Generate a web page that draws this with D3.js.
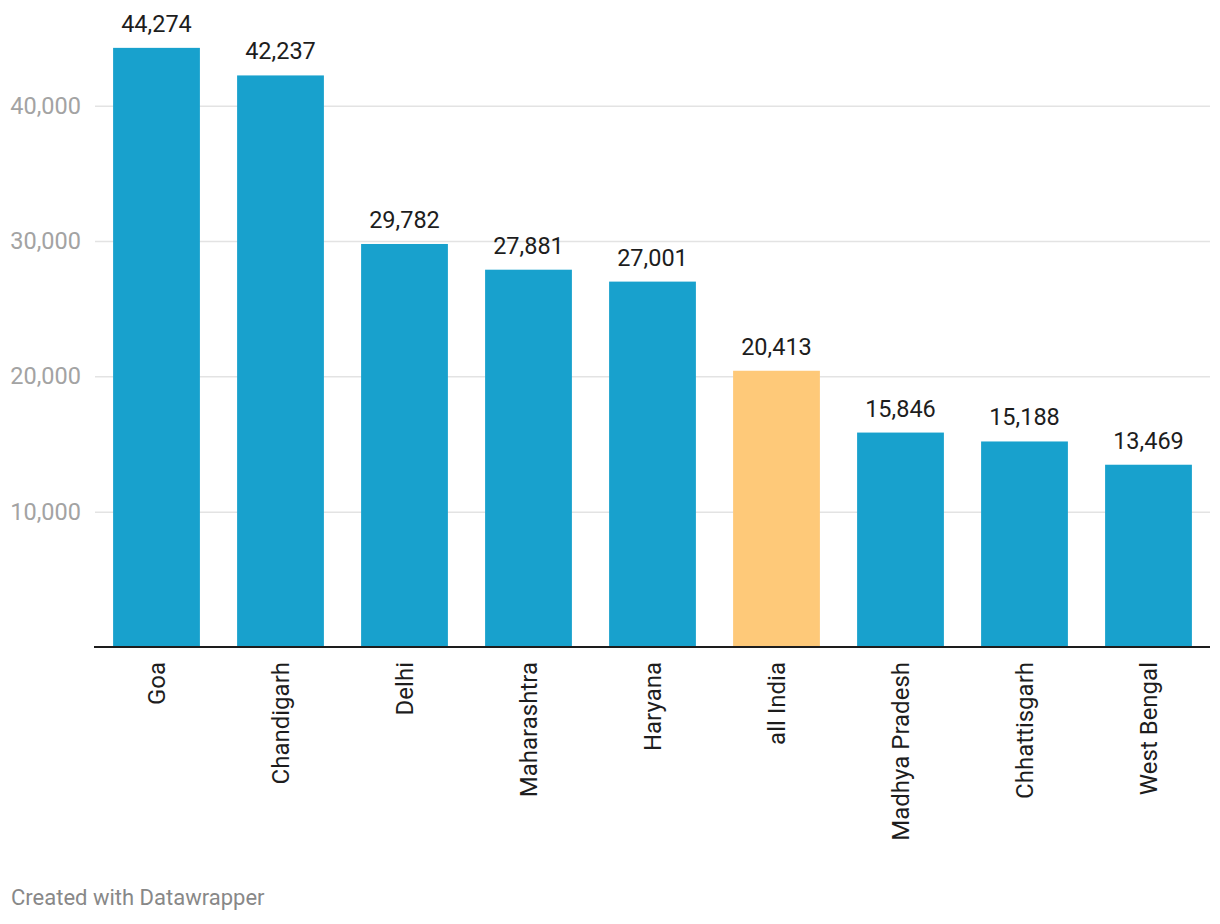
<!DOCTYPE html>
<html lang="en">
<head>
    <meta charset="UTF-8"/>
    <title>Bar chart</title>
    <script src="https://d3js.org/d3.v7.min.js"></script>
    <style>
        body { margin: 0; background: #fff; }
        text { font-family: Roboto, "Noto Sans", sans-serif; }
    </style>
</head>
<body>
<div id="chart"></div>
<script>
    // data
    const states = ["Goa", "Chandigarh", "Delhi", "Maharashtra", "Haryana", "all India",
        "Madhya Pradesh", "Chhattisgarh", "West Bengal"];
    const values = [44274, 42237, 29782, 27881, 27001, 20413, 15846, 15188, 13469];
    const yTicks = [10000, 20000, 30000, 40000];
    const highlight = "all India";

    const W = 1220, H = 924;

    const svg = d3.select("#chart")
        .append("svg")
        .attr("width", W)
        .attr("height", H);

    const x = d3.scaleBand()
        .domain(states)
        .range([94.5, 1210.5])
        .paddingInner(0.3)
        .paddingOuter(0.15);

    const y = d3.scaleLinear()
        .domain([0, 40000])
        .range([647, 105.7]);

    const fmt = d3.format(",");

    // gridlines + y labels
    const yAxis = svg.append("g")
        .attr("transform", "translate(95,0)")
        .call(d3.axisLeft(y).tickValues(yTicks).tickSize(-1115).tickFormat(fmt).tickPadding(14));
    yAxis.select(".domain").remove();
    yAxis.selectAll(".tick line").attr("stroke", "#e3e3e3").attr("stroke-width", 1.5);
    yAxis.selectAll(".tick text")
        .attr("fill", "#a3a3a3")
        .style("font-size", "23.5px")
        .style("font-family", "Roboto, sans-serif");

    // bars
    const data = states.map(function(s, i) { return {name: s, value: values[i]}; });
    svg.selectAll("rect.bar")
        .data(data)
        .enter().append("rect")
        .attr("class", "bar")
        .attr("x", function(d) { return x(d.name); })
        .attr("width", x.bandwidth())
        .attr("y", function(d) { return y(d.value); })
        .attr("height", function(d) { return y(0) - y(d.value); })
        .attr("fill", function(d) { return d.name === highlight ? "#fec979" : "#18a1cd"; });

    // value labels
    svg.selectAll("text.val")
        .data(data)
        .enter().append("text")
        .attr("class", "val")
        .attr("x", function(d) { return x(d.name) + x.bandwidth() / 2; })
        .attr("y", function(d) { return y(d.value) - 16; })
        .attr("text-anchor", "middle")
        .attr("fill", "#1d1d1d")
        .style("font-size", "23.5px")
        .text(function(d) { return fmt(d.value); });

    // x axis
    const xAxis = svg.append("g")
        .attr("transform", "translate(0," + y(0) + ")")
        .call(d3.axisBottom(x).tickSize(0).tickPadding(0));
    xAxis.select(".domain").attr("stroke", "#1d1d1d").attr("stroke-width", 2.2)
        .attr("d", "M94,0H1210");
    xAxis.selectAll(".tick text")
        .attr("transform", "rotate(-90)")
        .attr("text-anchor", "end")
        .attr("x", -15)
        .attr("y", 0)
        .attr("dy", "0.35em")
        .attr("fill", "#1d1d1d")
        .style("font-size", "24px")
        .style("font-family", "Roboto, sans-serif");

    // footer
    svg.append("text")
        .attr("x", 11)
        .attr("y", 905)
        .attr("fill", "#888")
        .style("font-size", "22px")
        .text("Created with Datawrapper");
</script>
</body>
</html>
